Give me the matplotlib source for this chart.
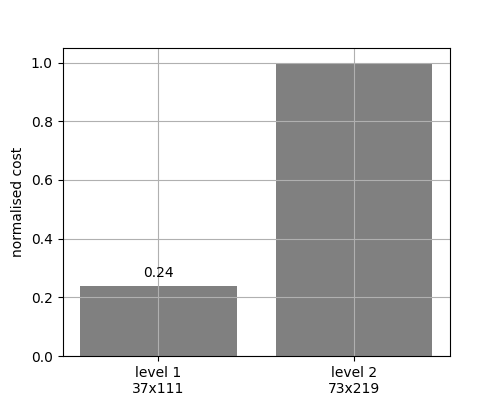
import matplotlib
matplotlib.use("Agg")
import matplotlib.pyplot as plt

categories = ["level 1\n37x111", "level 2\n73x219"]
values = [0.238, 1.0]
labels = ["0.24", None]

fig, ax = plt.subplots(figsize=(5, 4), dpi=100)
x = list(range(len(categories)))
ax.bar(x, values, color="gray", width=0.8)
for xi, v, lab in zip(x, values, labels):
    if lab:
        ax.text(xi, v + 0.02, lab, ha="center", va="bottom")
ax.set_xticks(x)
ax.set_xticklabels(categories)
ax.set_ylabel("normalised cost")
ax.grid(True)
fig.savefig("out.png")
